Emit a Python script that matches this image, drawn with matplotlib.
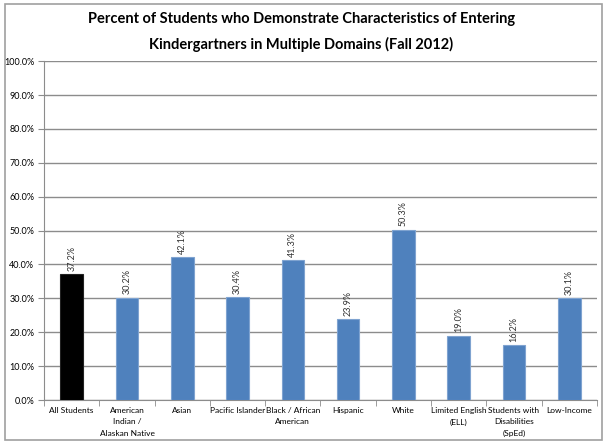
import numpy as np
import matplotlib.pyplot as plt
from matplotlib.patches import Rectangle

plt.rcParams['font.family'] = ['Lato', 'DejaVu Sans']

groups = ["All Students", "American\nIndian /\nAlaskan Native", "Asian",
          "Pacific Islander", "Black / African\nAmerican", "Hispanic", "White",
          "Limited English\n(ELL)", "Students with\nDisabilities\n(SpEd)", "Low-Income"]
pct = [37.2, 30.2, 42.1, 30.4, 41.3, 23.9, 50.3, 19.0, 16.2, 30.1]
colors = ["#000000"] + ["#4F81BD"] * 9

fig = plt.figure(figsize=(6.03, 4.43), dpi=100)
fig.patches.append(Rectangle((0.008, 0.006), 0.99, 0.985, transform=fig.transFigure,
                             fill=False, edgecolor="#a0a0a0", linewidth=1.2))
ax = fig.add_axes([0.073, 0.097, 0.917, 0.765])

x = np.arange(len(pct))
ax.bar(x, pct, width=0.41, color=colors, edgecolor=["#222222"] + ["#7fa3d0"] * 9,
       linewidth=0.8, zorder=3)
for xi, v in zip(x, pct):
    ax.text(xi, v + 1.0, f"{v:.1f}%", rotation=90, ha="center", va="bottom",
            fontsize=6.5, color="#333333")

ax.set_xlim(-0.5, len(pct) - 0.5)
ax.set_ylim(0, 100)
ax.set_yticks(np.arange(0, 101, 10))
ax.set_yticklabels([f"{t:.1f}%" for t in range(0, 101, 10)], fontsize=6.5)
ax.yaxis.grid(True, color="#8c8c8c", linewidth=1)
ax.set_axisbelow(True)

ax.set_xticks(x)
ax.set_xticklabels(groups, fontsize=6, linespacing=1.75)
ax.tick_params(axis="x", length=0, pad=5)
ax.set_xticks(np.arange(-0.5, len(pct), 1), minor=True)
ax.tick_params(axis="x", which="minor", length=4, color="#8c8c8c")
ax.tick_params(axis="y", length=4, color="#8c8c8c", pad=3)

for s in ["top", "right"]:
    ax.spines[s].set_visible(False)
for s in ["left", "bottom"]:
    ax.spines[s].set_color("#8c8c8c")

fig.suptitle("Percent of Students who Demonstrate Characteristics of Entering\n"
             "Kindergartners in Multiple Domains (Fall 2012)",
             fontsize=10.5, fontweight="bold", y=0.972, linespacing=1.9)

fig.savefig("out.png", dpi=100)
